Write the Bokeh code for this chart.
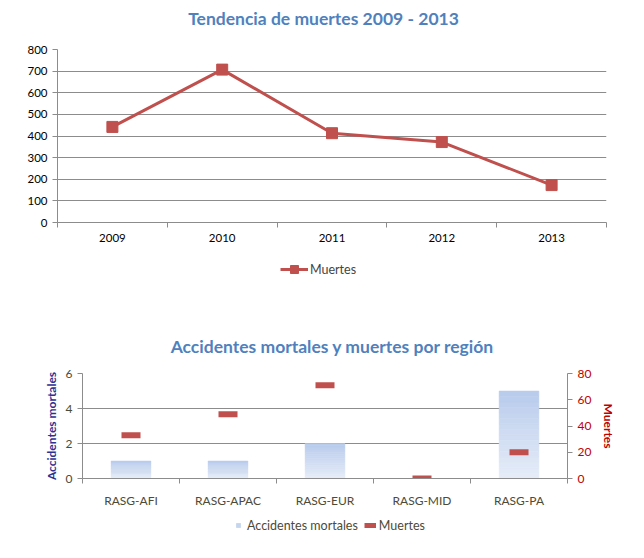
from bokeh.plotting import figure
from bokeh.models import (Range1d, LinearAxis, FixedTicker, Legend, LegendItem,
                          ColumnDataSource, Label)
from bokeh.embed import file_html
from bokeh.resources import INLINE

# ---- data ----
years = ["2009", "2010", "2011", "2012", "2013"]
deaths_by_year = [442, 707, 413, 372, 173]

regions = ["RASG-AFI", "RASG-APAC", "RASG-EUR", "RASG-MID", "RASG-PA"]
fatal_accidents = [1, 1, 2, 0, 5]
deaths_by_region = [33, 49, 71, 0, 20]

title_top = "Tendencia de muertes 2009 - 2013"
title_bottom = "Accidentes mortales y muertes por región"

FONT = "Lato"
RED = "#c0504d"
GRID = "#8c8c8c"
OLIVE = "#4d4a36"
BAR = "#c6d5ee"
TITLE_C = "#4f81bd"
W = 636


def strip(height):
    f = figure(width=W, height=height, output_backend="svg", toolbar_location=None,
               x_range=Range1d(0, 1), y_range=Range1d(0, 1),
               x_axis_type=None, y_axis_type=None, min_border=0)
    f.outline_line_color = None
    f.xgrid.visible = False
    f.ygrid.visible = False
    return f


def title_strip(height, text, cx, cy):
    f = strip(height)
    f.add_layout(Label(x=cx, y=cy, x_units="screen", y_units="screen", text=text,
                       text_align="center", text_baseline="middle",
                       text_font=FONT, text_font_size="17.5px",
                       text_font_style="bold", text_color=TITLE_C))
    return f


# ---- top chart ----
T1 = title_strip(36, title_top, 323, 18)

xs = [i + 0.5 for i in range(len(years))]
p1 = figure(width=W, height=219, output_backend="svg", toolbar_location=None,
            x_range=Range1d(0, len(years)), y_range=Range1d(0, 800),
            min_border_left=57, min_border_right=30, min_border_top=13,
            min_border_bottom=33)
p1.outline_line_color = None
p1.xgrid.grid_line_color = None
p1.ygrid.grid_line_color = GRID
p1.yaxis.ticker = FixedTicker(ticks=list(range(0, 801, 100)))
p1.xaxis.ticker = FixedTicker(ticks=xs, minor_ticks=list(range(len(years) + 1)))
p1.xaxis.major_label_overrides = {x: y for x, y in zip(xs, years)}
for ax in (p1.xaxis, p1.yaxis):
    ax.axis_line_color = GRID
    ax.major_label_text_font = FONT
    ax.major_label_text_font_size = "11.5px"
    ax.major_label_text_color = "#000000"
p1.xaxis.major_tick_line_color = None
p1.xaxis.minor_tick_line_color = GRID
p1.xaxis.minor_tick_out = 5
p1.xaxis.minor_tick_in = 0
p1.xaxis.major_label_standoff = 5
p1.yaxis.major_tick_line_color = GRID
p1.yaxis.major_tick_out = 5
p1.yaxis.major_tick_in = 0
p1.yaxis.minor_tick_line_color = None

src1 = ColumnDataSource(dict(x=xs, y=deaths_by_year))
p1.line("x", "y", source=src1, line_color=RED, line_width=3)
p1.scatter("x", "y", source=src1, marker="square", size=11,
           fill_color=RED, line_color=RED)

L1 = strip(25)
ll = L1.line(x=[-5, -4], y=[-5, -4], line_color=RED, line_width=3)
lm = L1.scatter(x=[-5], y=[-5], marker="square", size=11, fill_color=RED,
                line_color=RED)
L1.add_layout(Legend(items=[LegendItem(label="Muertes", renderers=[ll, lm])],
                     orientation="horizontal", location=(280, 1),
                     label_text_font=FONT, label_text_font_size="12.5px",
                     glyph_width=28, label_standoff=2, border_line_color=None,
                     background_fill_alpha=0, padding=2, margin=0))

# ---- bottom chart ----
T2 = title_strip(80, title_bottom, 332, 14)

rx = [i + 0.5 for i in range(len(regions))]
p2 = figure(width=W, height=150, output_backend="svg", toolbar_location=None,
            x_range=Range1d(0, len(regions)), y_range=Range1d(0, 6),
            min_border_left=82, min_border_right=69, min_border_top=13,
            min_border_bottom=31)
p2.outline_line_color = None
p2.xgrid.grid_line_color = None
p2.ygrid.grid_line_color = GRID
p2.extra_y_ranges = {"deaths": Range1d(0, 80)}

p2.yaxis.ticker = FixedTicker(ticks=[0, 2, 4, 6])
p2.yaxis.axis_label = "Accidentes mortales"
p2.yaxis.axis_label_text_color = "#2e3192"
p2.yaxis.axis_label_text_font = FONT
p2.yaxis.axis_label_text_font_size = "12px"
p2.yaxis.axis_label_text_font_style = "bold"
p2.yaxis.axis_label_standoff = 4
p2.xaxis.ticker = FixedTicker(ticks=rx, minor_ticks=list(range(len(regions) + 1)))
p2.xaxis.major_label_overrides = {x: r for x, r in zip(rx, regions)}
for ax in (p2.xaxis, p2.yaxis):
    ax.axis_line_color = GRID
    ax.major_label_text_font = FONT
    ax.major_label_text_font_size = "12px"
    ax.major_label_text_color = OLIVE
p2.xaxis.major_tick_line_color = None
p2.xaxis.minor_tick_line_color = GRID
p2.xaxis.minor_tick_out = 5
p2.xaxis.minor_tick_in = 0
p2.xaxis.major_label_standoff = 8
p2.yaxis.major_tick_line_color = GRID
p2.yaxis.major_tick_out = 5
p2.yaxis.major_tick_in = 0
p2.yaxis.minor_tick_line_color = None

ry = LinearAxis(y_range_name="deaths", ticker=FixedTicker(ticks=[0, 20, 40, 60, 80]),
                axis_label="Muertes")
ry.axis_line_color = GRID
ry.major_tick_line_color = GRID
ry.major_tick_out = 5
ry.major_tick_in = 0
ry.minor_tick_line_color = None
ry.major_label_text_font = FONT
ry.major_label_text_font_size = "12px"
ry.major_label_text_color = "#c00000"
ry.axis_label_text_color = "#c00000"
ry.axis_label_text_font = FONT
ry.axis_label_text_font_size = "12px"
ry.axis_label_text_font_style = "bold"
ry.axis_label_standoff = 7
p2.add_layout(ry, "right")

# vertical gradient: each bar drawn as thin slices of its own height
N = 16
top_c = (0xb8, 0xcb, 0xec)
bot_c = (0xe6, 0xed, 0xf8)
bx, bb, bt, bc = [], [], [], []
for x, v in zip(rx, fatal_accidents):
    if v <= 0:
        continue
    for k in range(N):
        f = (k + 0.5) / N
        c = tuple(int(round(bot_c[j] + (top_c[j] - bot_c[j]) * f)) for j in range(3))
        bx.append(x)
        bb.append(v * k / N)
        bt.append(v * (k + 1) / N)
        bc.append("#%02x%02x%02x" % c)
p2.vbar(x=bx, bottom=bb, top=bt, width=0.41, fill_color=bc, line_color=bc,
        line_width=0.5)
p2.rect(x=rx, y=deaths_by_region, width=19, height=6, width_units="screen",
        height_units="screen", fill_color=RED, line_color=None,
        y_range_name="deaths")

L2 = strip(26)
sw = L2.scatter(x=[-5], y=[-5], marker="square", size=8, fill_color=BAR,
                line_color=None)
dm = L2.line(x=[-5, -4], y=[-5, -4], line_color=RED, line_width=5)
L2.add_layout(Legend(items=[LegendItem(label="Accidentes mortales", renderers=[sw]),
                            LegendItem(label="Muertes", renderers=[dm])],
                     orientation="horizontal", location=(232, 1),
                     label_text_font=FONT, label_text_font_size="12.5px",
                     label_text_color=OLIVE, glyph_width=12, label_standoff=3,
                     spacing=6, border_line_color=None, background_fill_alpha=0,
                     padding=2, margin=0))

open("out.html", "w").write(file_html([T1, p1, L1, T2, p2, L2], INLINE))
